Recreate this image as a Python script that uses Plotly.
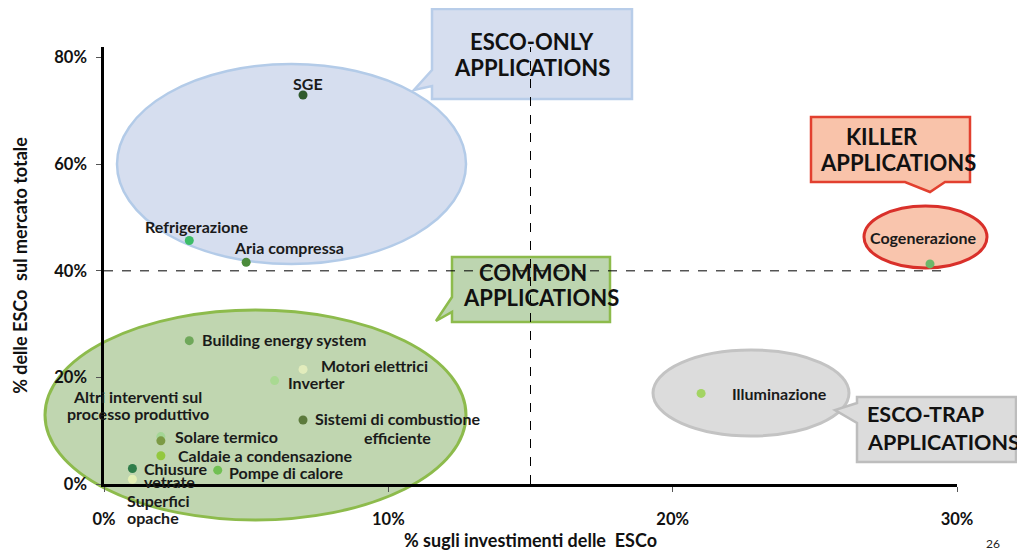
import plotly.graph_objects as go

# ---------------- data ----------------
names = ["SGE", "Refrigerazione", "Aria compressa", "Cogenerazione",
         "Building energy system", "Motori elettrici", "Inverter",
         "Sistemi di combustione<br>efficiente", "Illuminazione",
         "Solare termico", "Altri interventi sul<br>processo produttivo",
         "Caldaie a condensazione", "Pompe di calore",
         "Chiusure<br>vetrate", "Superfici<br>opache"]
inv_share = [7.0, 3.0, 5.0, 29.05, 3.0, 7.0, 6.0, 7.0, 21.0, 2.0, 2.0, 2.0, 4.0, 1.0, 1.0]   # % sugli investimenti
mkt_share = [73.0, 45.7, 41.6, 41.3, 26.9, 21.5, 19.4, 12.0, 17.0, 8.9, 8.1, 5.3, 2.6, 2.9, 0.9]  # % sul mercato
x_ticks = [0, 10, 20, 30]
y_ticks = [0, 20, 40, 60, 80]
x_split = 15   # soglia investimenti
y_split = 40   # soglia mercato

# ---------------- styles ----------------
colors = ["#2f5a2c", "#3dbd68", "#4b8b3b", "#6cb86a", "#6fa85a", "#e2ecbc",
          "#a9d992", "#5c7a3c", "#a3d463", "#a4d696", "#7c9a44", "#93c83e",
          "#71c052", "#2f7d4a", "#e3efb4"]
# label placement: (xanchor, xshift px, yshift px of first line (down +), line gap px)
label_pos = [("center", 5, -11, 0), ("center", 7, -14, 0),
             ("center", 43, -15, 0), ("center", -6, -26, 0),
             ("left", 11, -1, 0), ("left", 16, -4, 0),
             ("left", 11, 2, 0), ("center", 94, -2, 19),
             ("left", 29, 0, 0), ("left", 12, 0, 0),
             ("center", -23, -44, 17), ("left", 15, 0, 0),
             ("left", 9, 2, 0), ("left", 10, 0, 13),
             ("left", -7, 21, 17)]

FONT = "Lato"
LBL_SIZE = 16
# page offset of the plot div inside the browser window (body margin)
OFF = 8
W_FIG, H_FIG = 1025 - OFF, 551 - OFF
# plot area in window pixels
L, R, T, B = 104, 957, 47, 484
PW, PH = R - L, B - T


def px(x):
    return (x - L) / PW


def py(y):
    return (B - y) / PH


fig = go.Figure()
fig.add_trace(go.Scatter(
    x=[v / 100 for v in inv_share], y=[v / 100 for v in mkt_share],
    mode="markers", marker=dict(size=9, color=colors, line=dict(width=0)),
    hovertext=names, hoverinfo="text", showlegend=False, cliponaxis=False))

shapes = []
# dashed threshold lines
shapes.append(dict(type="line", xref="x", yref="y", x0=x_split / 100, x1=x_split / 100,
                   y0=0, y1=0.82, line=dict(color="black", width=1, dash="dash"), layer="below"))
shapes.append(dict(type="line", xref="x", yref="y", x0=0, x1=0.295, y0=y_split / 100,
                   y1=y_split / 100, line=dict(color="black", width=1, dash="dash"), layer="below"))


def ellipse(x0, y0, x1, y1, fill, line, lw):
    return dict(type="circle", xref="paper", yref="paper", x0=px(x0), x1=px(x1),
                y0=py(y1), y1=py(y0), fillcolor=fill, line=dict(color=line, width=lw),
                layer="below")


def callout(pts, fill, line, lw):
    path = "M " + " L ".join(f"{px(a):.5f},{py(b):.5f}" for a, b in pts) + " Z"
    return dict(type="path", xref="paper", yref="paper", path=path, fillcolor=fill,
                line=dict(color=line, width=lw), layer="below")


shapes.append(ellipse(117, 64, 466, 264, "#d6deef", "#b3cbe8", 2.5))
shapes.append(ellipse(45, 310, 466, 520, "#c0d6b0", "#8dbb4c", 3))
shapes.append(ellipse(864, 206, 987, 268, "#f9c5ad", "#d9302a", 3))
shapes.append(ellipse(653, 350, 849, 436, "#dcdcdc", "#c3c3c3", 3))

shapes.append(callout([(432, 9), (632, 9), (632, 99), (432, 99), (432, 86), (414, 90), (432, 70)],
                      "#d6deef", "#b8cde9", 2.5))
shapes.append(callout([(811, 117), (970, 117), (970, 182), (945, 182), (930, 192), (905, 182),
                       (811, 182)], "#f9c3aa", "#e2402f", 2.5))
shapes.append(callout([(452, 257), (610, 257), (610, 322), (452, 322), (452, 312), (436, 321),
                       (452, 297)], "#bdd5b0", "#8dbb4c", 2.5))
shapes.append(callout([(857, 397), (1016, 397), (1016, 462), (857, 462), (857, 423), (835, 410),
                       (857, 403)], "#dcdcdc", "#bdbdbd", 2.5))

annotations = []
for n, xv, yv, (xa, xs, ys, gap) in zip(names, inv_share, mkt_share, label_pos):
    for i, line in enumerate(n.split("<br>")):
        annotations.append(dict(x=xv / 100, y=yv / 100, xref="x", yref="y", text=line,
                                showarrow=False, xanchor=xa, yanchor="middle", xshift=xs,
                                yshift=-(ys + i * gap),
                                font=dict(family=FONT, size=LBL_SIZE, color="#1a1a1a",
                                          weight="bold")))


def ptext(txt, x, y, size=22, xa="center"):
    annotations.append(dict(x=px(x), y=py(y), xref="paper", yref="paper", text=txt,
                            showarrow=False, xanchor=xa, yanchor="middle",
                            font=dict(family=FONT, size=size, color="#111111", weight="bold")))


ptext("ESCO-ONLY", 532, 42)
ptext("APPLICATIONS", 532, 68)
ptext("KILLER", 882, 136)
ptext("APPLICATIONS", 898, 162)
ptext("COMMON", 533, 272)
ptext("APPLICATIONS", 541, 297)
ptext("ESCO-TRAP", 865, 414, size=21.5, xa="left")
ptext("APPLICATIONS", 865, 442, size=21.5, xa="left")
annotations.append(dict(x=px(993), y=py(543), xref="paper", yref="paper", text="26",
                        showarrow=False, font=dict(family=FONT, size=12, color="#222"),
                        xanchor="center", yanchor="middle"))

fig.update_layout(
    width=W_FIG, height=H_FIG,
    margin=dict(l=L - OFF, r=W_FIG - (R - OFF), t=T - OFF, b=H_FIG - (B - OFF), pad=0,
                autoexpand=False),
    paper_bgcolor="white", plot_bgcolor="rgba(0,0,0,0)",
    shapes=shapes, annotations=annotations,
    font=dict(family=FONT, color="#111"),
    xaxis=dict(range=[0, 0.30], tickvals=[v / 100 for v in x_ticks],
               ticktext=[f"{v}%" for v in x_ticks], showgrid=False, zeroline=False,
               showline=True, linecolor="black", linewidth=2.5, ticks="outside",
               ticklen=5, tickwidth=1, tickcolor="#555", ticklabelstandoff=13,
               automargin=False,
               tickfont=dict(family=FONT, size=16.5, color="#111", weight="bold"),
               title=dict(text="% sugli investimenti delle  ESCo", standoff=5,
                          font=dict(family=FONT, size=18, color="#111", weight="bold"))),
    yaxis=dict(range=[0, 0.82], tickvals=[v / 100 for v in y_ticks],
               ticktext=[f"{v}%" for v in y_ticks], showgrid=False, zeroline=False,
               showline=True, linecolor="black", linewidth=2.5, ticks="outside",
               ticklen=5, tickwidth=1, tickcolor="#555", ticklabelstandoff=6,
               automargin=False,
               tickfont=dict(family=FONT, size=16.5, color="#111", weight="bold"),
               title=dict(text="% delle ESCo  sul mercato totale", standoff=22,
                          font=dict(family=FONT, size=18, color="#111", weight="bold"))),
)

fig.write_html("out.html")
